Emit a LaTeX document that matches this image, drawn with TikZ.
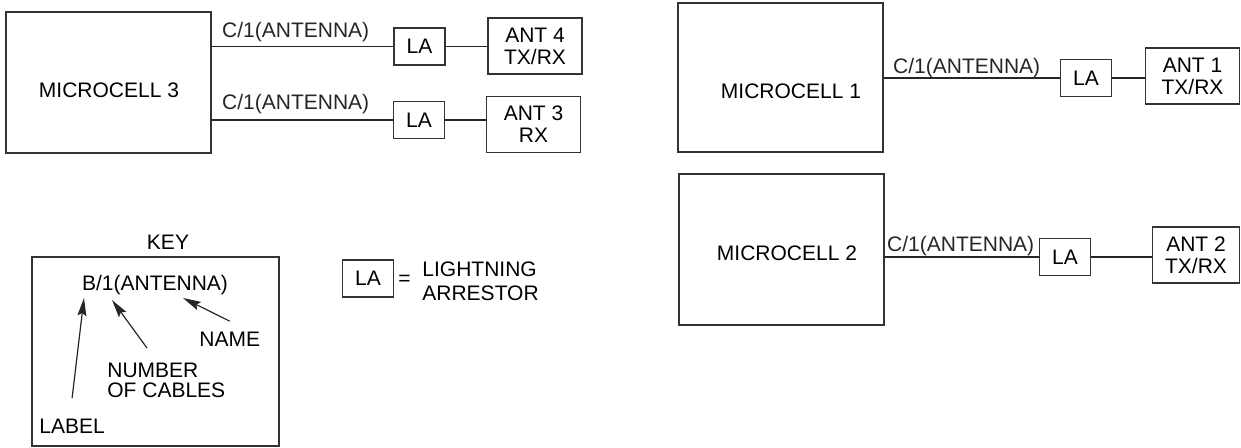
\documentclass[tikz,border=0pt]{standalone}
\usepackage{fontspec}
\setmainfont{Liberation Sans}
\usetikzlibrary{arrows.meta}
\newcommand\CableRun[5]{%
    \draw[wire] (#2.west -| #1.east) node[cablelbl,#5] (#4) {C/1(ANTENNA)} -- (#2.west);
    \draw[wire] (#2.east) -- (#2.east -| #3.west);
}

\begin{document}
\begin{tikzpicture}[x=0.5pt,y=-0.5pt,
    font=\fontsize{10.5}{11}\selectfont,
    box/.style={draw=black!80,line width=0.6pt,inner sep=0pt},
    cellbox/.style={box,minimum width=102.5pt},
    labox/.style={box,minimum width=25.5pt,minimum height=18.5pt},
    antbox/.style={box,minimum width=47pt,minimum height=28pt,align=center},
    wire/.style={black!85,line width=0.6pt},
    cablelbl/.style={anchor=base west,inner sep=0pt},
    txt/.style={inner sep=0pt,align=left},
    keyarrow/.style={wire,-{Stealth[length=9pt,width=4.5pt,inset=1.5pt]}}]
    \useasboundingbox (0,0) rectangle (1241,447);
    % microcell 3
    \node[cellbox,minimum height=70.5pt] (mc3) at (108.5,82.5) {};
    \node[txt] (mc3t) at (109,90) {MICROCELL 3};
    \node[labox] (laD) at (419.5,46.5) {LA};
    \node[labox] (laC) at (419,120) {LA};
    \node[antbox] (ant4) at (535,46) {ANT 4\\TX/RX};
    \node[antbox] (ant3) at (533.5,124.5) {ANT 3\\RX};
    \CableRun{mc3}{laD}{ant4}{cabD}{xshift=5pt,yshift=4.75pt}
    \CableRun{mc3}{laC}{ant3}{cabC}{xshift=5pt,yshift=5.5pt}
    % microcell 1
    \node[cellbox,minimum height=74.5pt] (mc1) at (780.5,77.5) {};
    \node[txt] (mc1t) at (791,91) {MICROCELL 1};
    \node[labox] (laA) at (1086,78) {LA};
    \node[antbox] (ant1) at (1192.5,76) {ANT 1\\TX/RX};
    \CableRun{mc1}{laA}{ant1}{cabA}{xshift=4.5pt,yshift=2.5pt}
    % microcell 2
    \node[cellbox,minimum height=75.5pt] (mc2) at (781.5,249.5) {};
    \node[txt] (mc2t) at (787,253) {MICROCELL 2};
    \node[labox] (laB) at (1065,257) {LA};
    \node[antbox,minimum width=43.5pt] (ant2) at (1196,255) {ANT 2\\TX/RX};
    \CableRun{mc2}{laB}{ant2}{cabB}{xshift=1pt,yshift=3pt}
    % key
    \node[box,minimum width=123.5pt,minimum height=94.5pt] (key) at (155.5,351.5) {};
    \node[txt] (keyt) at (168,242) {KEY};
    \node[txt,anchor=base] (bt) at (155,290) {B/1(ANTENNA)};
    \node[txt,anchor=base west] (labt) at (39,433) {LABEL};
    \node[txt,anchor=north west] (numt) at (107,363) {NUMBER\\[-1pt]OF CABLES};
    \node[txt,anchor=base west] (namet) at (199,346) {NAME};
    \coordinate (hLab) at (84,298);
    \coordinate (hNum) at (112,300);
    \coordinate (hName) at (183,298);
    \draw[keyarrow] ([yshift=10pt]labt.north) -- (hLab);
    \draw[keyarrow] ([xshift=20pt,yshift=7.5pt]numt.north west) -- (hNum);
    \draw[keyarrow] ([yshift=5pt]namet.north) -- (hName);
    % legend
    \node[labox] (lgla) at (368,278.5) {LA};
    \node[txt] (lgeq) at (404.5,280) {=};
    \node[txt,anchor=west] (lgtxt) at (422,281) {LIGHTNING\\[1pt]ARRESTOR};
\end{tikzpicture}
\end{document}
